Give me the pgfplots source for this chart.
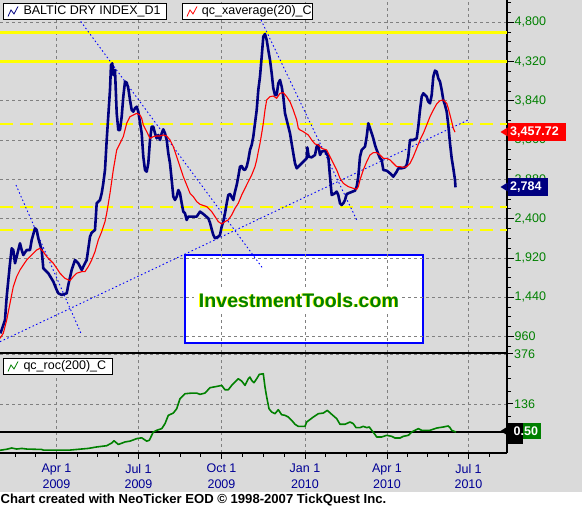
\documentclass[border=0pt]{standalone}
\usepackage{pgfplots}
\pgfplotsset{compat=1.18}
\usepackage{fontspec}
\setmainfont{Liberation Sans}
\definecolor{bg}{RGB}{218,218,218}
\definecolor{navyb}{RGB}{0,0,128}
\definecolor{dgreen}{RGB}{0,128,0}
\definecolor{datecol}{RGB}{0,0,150}
\definecolor{gridc}{RGB}{128,128,128}
\definecolor{ylw}{RGB}{255,255,0}
\newcommand{\lblfont}{\fontsize{12.5}{15.3}\selectfont}
\begin{document}
\begin{tikzpicture}[x=1pt,y=1pt]
\useasboundingbox (0,0) rectangle (582,508);
\fill[bg] (0,0) rectangle (582,508);
\fill[white] (0,0) rectangle (582,16);
\fill[white] (185,164.7) rectangle (422.7,253);
\draw[blue, line width=2pt] (185,164.7) rectangle (422.7,253);
% ---------------- main panel ----------------
\begin{axis}[
  at={(0pt,155pt)}, anchor=south west, scale only axis,
  width=507pt, height=353pt,
  xmin=0, xmax=507, ymin=760, ymax=5072,
  axis y line*=right, axis x line*=bottom,
  axis line style={line width=2pt, black},
  xtick={56.5,138.5,221.5,305,387,468.5}, xmajorticks=false,
  ytick={960,1440,...,4800},
  minor ytick={840,960,...,5040},
  tick align=outside, major tick length=6.5pt, minor tick length=4pt,
  tick style={black, line width=1pt},
  grid=major,
  major grid style={gridc, line width=0.8pt, dash pattern=on 3pt off 3pt},
  yticklabel style={font=\lblfont, text=dgreen, anchor=west, inner sep=0pt, xshift=1pt},
  /pgf/number format/.cd, 1000 sep={,}, assume math mode=true,
]
\addplot[ylw, line width=3.5pt] coordinates {(0,4673) (507,4673)};
\addplot[ylw, line width=3.5pt] coordinates {(0,4320) (507,4320)};
\addplot[ylw, line width=1.8pt, dash pattern=on 13pt off 7pt] coordinates {(0,3557) (507,3557)};
\addplot[ylw, line width=1.8pt, dash pattern=on 13pt off 7pt] coordinates {(0,2545) (507,2545)};
\addplot[ylw, line width=1.8pt, dash pattern=on 13pt off 7pt] coordinates {(0,2263) (507,2263)};
% trend lines
\addplot[blue, line width=0.9pt, dash pattern=on 1.5pt off 2.5pt] coordinates {(0,898) (468,3606)};
\addplot[blue, line width=0.9pt, dash pattern=on 1.5pt off 2.5pt] coordinates {(16,2812) (81.7,980)};
\addplot[blue, line width=0.9pt, dash pattern=on 1.5pt off 2.5pt] coordinates {(76,4889) (262,1807)};
\addplot[blue, line width=0.9pt, dash pattern=on 1.5pt off 2.5pt] coordinates {(261,4828) (356.7,2385)};
% BDI
\addplot[navyb, line width=2.6pt, line join=round] coordinates {
(0.5,1000) (5,1164) (6.7,1449) (10,1856) (11.7,2039) (13.3,2018) (15,1856) (16.7,1937) (18.3,2018) (20,2100) (21.7,2018) (23.3,1957) (26.7,2018) (30,2018) (31.7,2141) (35,2283) (36.7,2263) (38.3,2161) (41.7,2018) (43.3,1795) (48.3,1734) (53.3,1632) (56.7,1530) (58.3,1489) (61.7,1469) (66.7,1489) (68.3,1591) (71.7,1774) (75,1896) (78.3,1856) (81.7,1774) (85,1856) (86.7,1896) (90,2181) (91.7,2230) (95,2263) (96.7,2589) (100,2629) (101.7,2711) (103.3,2833) (105,2996) (106.7,3362) (110,3973) (111,4278) (112.3,4298) (113.3,4156) (115,4217) (116.7,3688) (118.3,3484) (120,3484) (121.7,3647) (123.3,3891) (125,4075) (126.7,4062) (128.3,3993) (130,3851) (131.7,3728) (133.3,3708) (135,3749) (136.7,3769) (138.3,3708) (141.7,3443) (143.3,3158) (145,2996) (146.7,2975) (148.3,3077) (150,3362) (151.7,3525) (153.3,3525) (155,3443) (156.7,3382) (158.3,3423) (160,3362) (161.7,3443) (163.3,3492) (165,3443) (166.7,3362) (168.3,3199) (170,3077) (171.7,2874) (173.3,2670) (175,2629) (176.7,2670) (178.3,2751) (180,2711) (181.7,2589) (183.3,2487) (185,2466) (186.7,2385) (188.3,2426) (191.7,2426) (196.7,2426) (200,2487) (203.3,2458) (208.3,2405) (210,2352) (211.7,2271) (213.3,2202) (215,2161) (218.3,2181) (220,2202) (221.7,2304) (223.3,2365) (225,2466) (226.7,2589) (228.3,2690) (230,2702) (233.3,2629) (235,2731) (236.7,2812) (238.3,2914) (240,3036) (241.7,3045) (243.3,3004) (245,2996) (246.7,3036) (248.3,3118) (250,3240) (251.7,3301) (253.3,3403) (255,3566) (256.7,3728) (258.3,3973) (260,4136) (261.7,4380) (263.3,4624) (265,4657) (266.7,4583) (268.3,4461) (270,4339) (271.7,4176) (273.3,3993) (275,3912) (276.7,3912) (278.3,4054) (280,4095) (281.7,4013) (283.3,3891) (285,3688) (286.7,3606) (290,3443) (293.3,3199) (295,3077) (296.7,3016) (298.3,3036) (300,3057) (303.3,3097) (306.7,3138) (307.3,3272) (308.7,3158) (311.7,3150) (315,3179) (316.7,3281) (318.3,3301) (320,3179) (321.7,3220) (325,3232) (328.3,3158) (330,2914) (331.7,2690) (335,2711) (336.7,2731) (338.3,2690) (340,2589) (341.7,2568) (343.3,2589) (345,2629) (346.7,2702) (350,2719) (355,2743) (356.7,2792) (358.3,2914) (360,3158) (361.7,3240) (363.3,3260) (365,3281) (366.7,3403) (368.3,3566) (370,3505) (371.7,3443) (373.3,3382) (375,3301) (376.7,3240) (380,3138) (381.7,3118) (383.3,2996) (386.7,2987) (390,2955) (393.3,2914) (396.7,2975) (398.3,3016) (401.7,3016) (405,3028) (406.7,3057) (408.3,3158) (410,3362) (413.3,3362) (416.7,3382) (418.3,3525) (420,3728) (421.7,3891) (423.3,3932) (425,3912) (426.7,3891) (428.3,3830) (430,3810) (431.7,3912) (433.3,4136) (435,4209) (436.7,4197) (438.3,4115) (440,4075) (441.7,3973) (443.3,3851) (445,3790) (446.7,3708) (448.3,3545) (450,3321) (451.7,3138) (453.3,3016) (455,2873) (455.5,2784)};
% 20-day average
\addplot[red, line width=1.1pt, line join=round] coordinates {
(0,939) (3.3,1001) (6.7,1163) (10,1367) (13.3,1571) (16.7,1693) (20,1774) (23.3,1835) (26.7,1896) (30,1937) (33.3,1978) (36.7,2018) (40,2039) (43.3,1998) (46.7,1937) (50,1896) (53.3,1856) (56.7,1795) (60,1734) (65,1672) (70,1644) (73.3,1693) (76.7,1734) (81.7,1754) (85,1754) (88.3,1815) (91.7,1896) (95,1998) (98.3,2141) (101.7,2242) (105,2365) (106.7,2466) (110,2711) (113.3,2996) (116.7,3240) (120,3321) (123.3,3403) (125,3484) (126.7,3566) (130,3647) (133.3,3667) (136.7,3688) (140,3667) (141.7,3627) (143.3,3545) (146.7,3464) (150,3382) (153.3,3403) (156.7,3411) (160,3411) (163.3,3423) (166.7,3411) (170,3362) (173.3,3281) (176.7,3158) (180,3036) (183.3,2914) (186.7,2812) (190,2711) (193.3,2670) (196.7,2609) (200,2576) (206.7,2548) (211.7,2487) (215,2426) (218.3,2365) (221.7,2336) (225,2365) (228.3,2385) (231.7,2446) (235,2527) (238.3,2589) (241.7,2690) (245,2772) (248.3,2853) (251.7,2935) (255,3036) (256.7,3118) (258.3,3220) (260,3321) (261.7,3443) (263.3,3566) (265,3728) (266.7,3851) (270,3891) (273.3,3899) (276.7,3871) (280,3932) (283.3,3940) (286.7,3891) (290,3830) (293.3,3728) (296.7,3606) (298.3,3505) (300,3484) (303.3,3464) (308.3,3423) (311.7,3362) (315,3313) (318.3,3301) (321.7,3260) (326.7,3240) (330,3158) (333.3,3077) (336.7,2996) (340,2894) (343.3,2833) (348.3,2792) (353.3,2772) (356.7,2760) (358.3,2792) (360,2874) (363.3,2996) (366.7,3097) (370,3179) (373.3,3207) (376.7,3207) (380,3179) (383.3,3138) (386.7,3138) (390,3118) (393.3,3077) (396.7,3036) (400,3036) (403.3,3028) (406.7,3036) (410,3077) (413.3,3158) (416.7,3260) (420,3362) (423.3,3443) (426.7,3545) (430,3647) (433.3,3728) (436.7,3802) (440,3842) (443.3,3851) (446.7,3810) (448.3,3749) (450,3667) (451.7,3586) (453.3,3505) (455,3458)};
\end{axis}
% ---------------- lower panel ----------------
\begin{axis}[
  at={(0pt,55pt)}, anchor=south west, scale only axis,
  width=507pt, height=99pt,
  xmin=0, xmax=507, ymin=-100, ymax=376,
  axis y line*=right, axis x line*=bottom,
  axis line style={line width=2pt, black},
  xtick={56.5,138.5,221.5,305,387,468.5},
  xticklabels={{Apr 1\\2009},{Jul 1\\2009},{Oct 1\\2009},{Jan 1\\2010},{Apr 1\\2010},{Jul 1\\2010}},
  minor xtick={15.3,35.9,77,97.5,118,159.25,180,200.75,242.4,263.25,284.1,325.5,346,366.5,407.4,427.75,448.1,489},
  ytick={136,376},
  minor ytick={-44,16,76,196,256,316},
  tick align=outside, major tick length=6pt, minor tick length=4pt,
  tick style={black, line width=1pt},
  grid=major,
  major grid style={gridc, line width=0.8pt, dash pattern=on 3pt off 3pt},
  yticklabel style={font=\lblfont, text=dgreen, anchor=west, inner sep=0pt, xshift=1pt},
  xticklabel style={font=\lblfont, text=datecol, align=center, inner sep=0pt, yshift=-5pt},
  /pgf/number format/.cd, assume math mode=true,
]
\addplot[black, line width=2pt] coordinates {(0,0.5) (507,0.5)};
\addplot[dgreen, line width=1.6pt, line join=round] coordinates {
(0,-87) (6.7,-82) (11.7,-76) (16.7,-81) (21.7,-78) (26.7,-81) (41.7,-83) (43.3,-86) (70,-86) (76.7,-83) (88.3,-78) (96.7,-71) (106.7,-65) (111.7,-52) (114,-41) (118.3,-59) (125,-47) (130,-43) (136.7,-31) (141.7,-27) (146.7,-43) (149.3,-39) (153.3,1) (156.7,9) (161.7,17) (165,41) (168.3,81) (173.3,92) (176.7,113) (180,161) (185,185) (191.7,188) (196.7,188) (200,182) (205,188) (210,214) (216.7,220) (221.7,225) (225,204) (228.3,204) (231.7,225) (235,241) (238.3,257) (241.7,246) (245,225) (248.3,257) (250,265) (251.7,249) (254,238) (256.7,257) (259.3,278) (263.3,281) (265,217) (266.7,169) (269,113) (271.7,97) (275,89) (278.3,108) (281.7,84) (285,81) (288.3,73) (291.7,57) (295,38) (298.3,28) (305,28) (306.7,49) (313.3,73) (318.3,89) (323.3,92) (327.3,105) (331.7,86) (336.7,65) (340,38) (345,38) (350,49) (353.3,41) (356,22) (360,22) (363.3,28) (366.7,22) (369.3,25) (371.7,9) (375,-11) (376.7,-23) (381.7,-23) (386.7,-15) (391.7,-20) (395,-28) (400,-28) (403.3,-20) (408.3,-15) (411.7,1) (415,9) (418.3,17) (421.7,9) (430,9) (436.7,20) (443.3,25) (448.3,30) (450,22) (451.7,9) (456,0.5)};
\end{axis}
% ---------------- annotations ----------------
\node[fill=white, inner xsep=4pt, inner ysep=5pt, anchor=base, text=ylw, font=\bfseries\fontsize{19.6}{22}\selectfont] at (298,200.7) {InvestmentTools.com};
\node[inner sep=0pt, anchor=base, text=dgreen, font=\bfseries\fontsize{19.6}{22}\selectfont] at (299,200.7) {InvestmentTools.com};
% legends
\draw[black, fill=white, line width=0.8pt] (3.3,488.7) rectangle (166.7,504.7);
\draw[navyb, line width=0.8pt] (8,491.5) -- (11,498) -- (14,494) -- (18,501.5);
\node[anchor=west, inner sep=0pt, font=\fontsize{12.5}{14}\selectfont] at (23.3,496.5) {BALTIC DRY INDEX\_D1};
\draw[black, fill=white, line width=0.8pt] (182.7,488.7) rectangle (312.7,504.7);
\draw[red, line width=0.8pt] (187,491.5) -- (190,498) -- (193,494) -- (197,501.5);
\node[anchor=west, inner sep=0pt, font=\fontsize{12.5}{14}\selectfont] at (201.7,496.5) {qc\_xaverage(20)\_C};
\draw[black, fill=white, line width=0.8pt] (3.3,134) rectangle (112.7,149.7);
\draw[dgreen, line width=0.8pt] (8,136.5) -- (11,143) -- (14,139) -- (18,146.5);
\node[anchor=west, inner sep=0pt, font=\fontsize{12.5}{14}\selectfont] at (23.3,141.7) {qc\_roc(200)\_C};
% value tags
\fill[red] (507.7,367.3) rectangle (565.7,384.7);
\fill[red] (500.5,376) -- (507.7,380.5) -- (507.7,371.5) -- cycle;
\node[anchor=west, inner sep=0pt, text=white, font=\bfseries\fontsize{12.5}{14}\selectfont] at (510,376) {3,457.72};
\fill[navyb] (507.7,312.3) rectangle (547.7,329.7);
\fill[navyb] (500.5,321) -- (507.7,325.5) -- (507.7,316.5) -- cycle;
\node[anchor=west, inner sep=0pt, text=white, font=\bfseries\fontsize{12.5}{14}\selectfont] at (510,321) {2,784};
\fill[dgreen] (522.7,68.7) rectangle (541,85.3);
\fill[black] (507.7,64) rectangle (522.7,85.3);
\fill[black] (500.5,77) -- (507.7,81.5) -- (507.7,72.5) -- cycle;
\node[anchor=west, inner sep=0pt, text=white, font=\bfseries\fontsize{12.5}{14}\selectfont] at (513.5,77) {0.50};
% footer
\node[anchor=west, inner sep=0pt, font=\bfseries\fontsize{13.1}{15}\selectfont] at (0.5,7.5) {Chart created with NeoTicker EOD © 1998-2007 TickQuest Inc.};
\end{tikzpicture}
\end{document}
